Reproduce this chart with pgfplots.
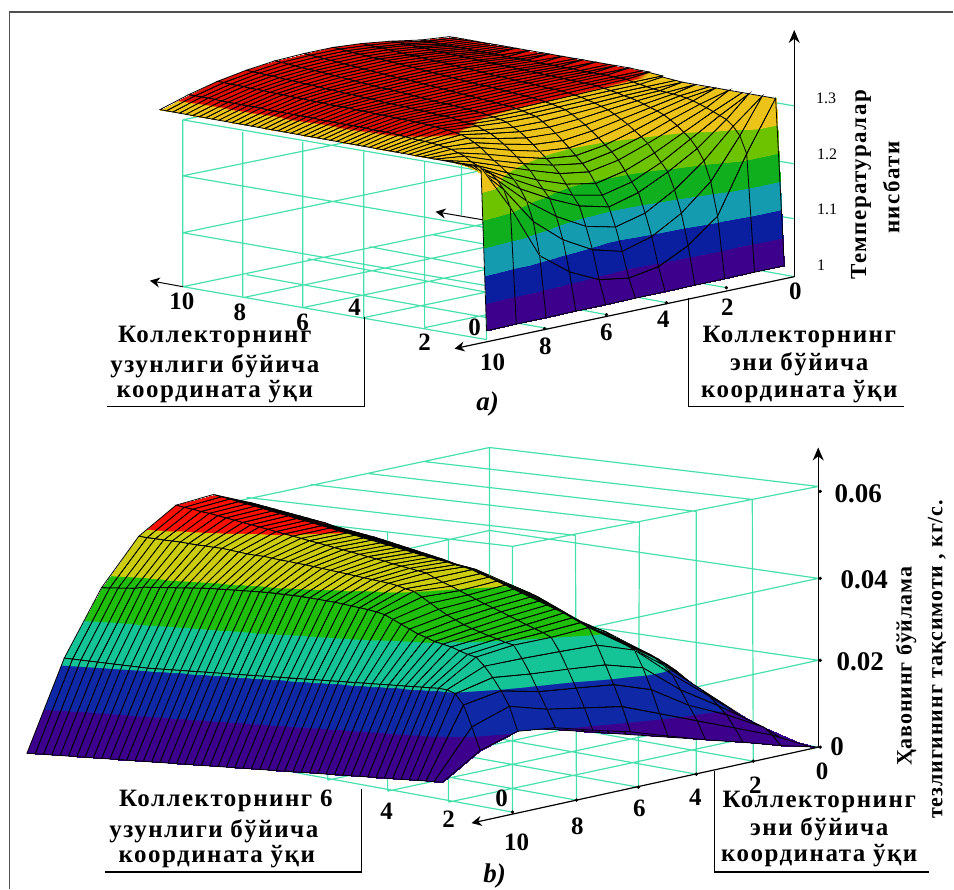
\documentclass[border=0pt]{standalone}
\usepackage{fontspec}
\setmainfont{Liberation Serif}
\newfontfamily\ls[LetterSpace=6]{Liberation Serif}
\newfontfamily\lsb[LetterSpace=4]{Liberation Serif}
\usepackage{pgfplots}
\pgfplotsset{compat=1.18}
\usetikzlibrary{arrows.meta}
\definecolor{cage}{RGB}{70,225,170}
\definecolor{axgray}{RGB}{60,60,60}
\pgfplotsset{
colormap={bandsa}{rgb255(0)=(60,0,140) rgb255(49)=(60,0,140) rgb255(50)=(10,30,160) rgb255(99)=(10,30,160) rgb255(100)=(20,155,175) rgb255(149)=(20,155,175) rgb255(150)=(15,175,30) rgb255(199)=(15,175,30) rgb255(200)=(110,195,0) rgb255(249)=(110,195,0) rgb255(250)=(235,195,25) rgb255(304)=(235,195,25) rgb255(305)=(225,15,0) rgb255(350)=(225,15,0)},
colormap={bandsb}{rgb255(0)=(60,0,140) rgb255(49)=(60,0,140) rgb255(50)=(15,40,165) rgb255(99)=(15,40,165) rgb255(100)=(20,195,150) rgb255(149)=(20,195,150) rgb255(150)=(30,190,10) rgb255(199)=(30,190,10) rgb255(200)=(205,205,15) rgb255(249)=(205,205,15) rgb255(250)=(250,15,0) rgb255(350)=(250,15,0)}
}
\tikzset{declare function={
bla(\s,\t,\a,\b,\c,\d)=(1-\s)*(1-\t)*\a+(1-\s)*\t*\b+\s*(1-\t)*\d+\s*\t*\c;
ua(\X,\Y,\H)=(1-\H/0.3)*bla(\X/10,\Y/10,785,487,165,455)+(\H/0.3)*bla(\X/10,\Y/10,783,488,160,450);
va(\X,\Y,\H)=(1-\H/0.3)*bla(\X/10,\Y/10,266,331,273,206)+(\H/0.3)*bla(\X/10,\Y/10,98,166,107,40);
ub(\X,\Y,\H)=bla(\X/10,\Y/10,819,443,27,400);
vb(\X,\Y,\H)=bla(\X/10,\Y/10,748,783,754,720)-4267*\H;
}}
\newcommand\tx[4][25]{\node[inner sep=0pt,font=\bfseries\fontsize{#1}{#1}\selectfont] at (axis cs:#2,#3,0) {#4};}
\newcommand\lb[3]{\node[inner sep=0pt,font=\ls\bfseries\fontsize{25}{25}\selectfont] at (axis cs:#1,#2,0) {#3};}
\newcommand\rt[3]{\node[inner sep=0pt,rotate=90,font=\ls\bfseries\fontsize{23}{23}\selectfont] at (axis cs:#1,#2,0) {#3};}
\newcommand\rtb[3]{\node[inner sep=0pt,rotate=90,font=\lsb\bfseries\fontsize{22}{22}\selectfont] at (axis cs:#1,#2,0) {#3};}
\begin{document}
\begin{tikzpicture}
\begin{axis}[scale only axis,width=954pt,height=890pt,xmin=0,xmax=954,ymin=0,ymax=890,zmin=0,zmax=1,y dir=reverse,view={0}{90},hide axis,clip=false,point meta min=0,point meta max=1]
\path (axis cs:0,0,0) rectangle (axis cs:954,890,0);
% frame
\addplot3[axgray!90,line width=1.8pt,no marks] coordinates {(9.5,890,0) (9.5,12,0) (954,12,0)};
% cage of a
\addplot3[cage,line width=1.2pt,no marks,empty line=jump] coordinates {
(183,120,0) (487,172,0)

(183,176,0) (487,228,0)

(183,233,0) (487,286,0)

(183,287,0) (487,340,0)

(183,120,0) (183,287,0)

(243,132,0) (243,298,0)

(303,142,0) (303,308,0)

(364,152,0) (364,318,0)

(425,162,0) (425,328,0)

(462,165,0) (462,215,0)

(487,172,0) (487,340,0)

(183,120,0) (495,55,0)

(183,176,0) (495,112,0)

(183,233,0) (495,168,0)

(183,287,0) (495,222,0)

(247,275,0) (549,329,0)

(308,259,0) (607,315,0)

(370,247,0) (667,303,0)

(433,235,0) (727,288,0)

(795,106,0) (495,55,0)

(795,164,0) (495,112,0)

(795,219,0) (495,168,0)

(795,277,0) (495,222,0)

(425,328,0) (737,263,0)

(364,318,0) (676,253,0)

(303,308,0) (615,243,0)

(243,298,0) (555,233,0)
};
\addplot3[black,line width=1pt,no marks,-{Stealth[length=10pt,width=10pt]}] coordinates {(183,287,0) (150,281,0)};
\addplot3[black,line width=1pt,no marks,-{Stealth[length=10pt,width=10pt]}] coordinates {(483,220,0) (436,212,0)};
% surface a : X = 10 ... 0 in rows, Y = 0 ... 10 in a row, z
\addplot3[surf,shader=faceted interp,faceted color=black,line width=0.8pt,colormap name=bandsa,z buffer=none,mesh/rows=51,mesh/cols=11,point meta={(\thisrowno{0}-1)/0.35}]
table[header=false,row sep=\\,x expr={ua(10-0.2*floor(\coordindex/11),mod(\coordindex,11),\thisrowno{0}-1)},y expr={va(10-0.2*floor(\coordindex/11),mod(\coordindex,11),\thisrowno{0}-1)},z expr=0]{
1.306\\1.312\\1.322\\1.330\\1.335\\1.336\\1.335\\1.330\\1.322\\1.310\\1.295\\
1.306\\1.312\\1.322\\1.329\\1.334\\1.335\\1.334\\1.329\\1.322\\1.310\\1.295\\
1.306\\1.312\\1.321\\1.328\\1.333\\1.334\\1.333\\1.329\\1.321\\1.310\\1.295\\
1.306\\1.311\\1.321\\1.328\\1.332\\1.333\\1.332\\1.328\\1.321\\1.310\\1.295\\
1.306\\1.311\\1.320\\1.327\\1.331\\1.332\\1.331\\1.328\\1.321\\1.310\\1.295\\
1.306\\1.311\\1.320\\1.326\\1.330\\1.331\\1.330\\1.327\\1.320\\1.309\\1.295\\
1.306\\1.311\\1.319\\1.325\\1.329\\1.330\\1.330\\1.326\\1.320\\1.309\\1.295\\
1.306\\1.311\\1.318\\1.324\\1.329\\1.329\\1.329\\1.326\\1.320\\1.309\\1.295\\
1.306\\1.310\\1.318\\1.324\\1.328\\1.328\\1.328\\1.325\\1.319\\1.309\\1.295\\
1.306\\1.310\\1.317\\1.323\\1.327\\1.327\\1.327\\1.324\\1.319\\1.309\\1.295\\
1.306\\1.310\\1.317\\1.322\\1.326\\1.326\\1.326\\1.324\\1.319\\1.309\\1.295\\
1.306\\1.310\\1.316\\1.321\\1.325\\1.325\\1.325\\1.323\\1.318\\1.309\\1.295\\
1.306\\1.310\\1.316\\1.321\\1.324\\1.324\\1.324\\1.322\\1.318\\1.308\\1.295\\
1.306\\1.309\\1.315\\1.320\\1.323\\1.323\\1.323\\1.322\\1.318\\1.308\\1.295\\
1.306\\1.309\\1.315\\1.319\\1.322\\1.322\\1.322\\1.321\\1.317\\1.308\\1.295\\
1.306\\1.309\\1.314\\1.318\\1.321\\1.322\\1.321\\1.320\\1.317\\1.308\\1.295\\
1.306\\1.309\\1.314\\1.318\\1.320\\1.321\\1.320\\1.320\\1.317\\1.308\\1.295\\
1.306\\1.309\\1.313\\1.317\\1.319\\1.320\\1.320\\1.319\\1.316\\1.308\\1.295\\
1.306\\1.308\\1.313\\1.316\\1.318\\1.319\\1.319\\1.318\\1.316\\1.308\\1.295\\
1.306\\1.308\\1.312\\1.315\\1.317\\1.318\\1.318\\1.318\\1.316\\1.308\\1.295\\
1.306\\1.308\\1.312\\1.314\\1.316\\1.317\\1.317\\1.317\\1.316\\1.307\\1.295\\
1.306\\1.308\\1.311\\1.314\\1.315\\1.316\\1.316\\1.316\\1.315\\1.307\\1.295\\
1.306\\1.308\\1.311\\1.313\\1.314\\1.315\\1.315\\1.316\\1.315\\1.307\\1.295\\
1.306\\1.308\\1.310\\1.312\\1.314\\1.314\\1.314\\1.315\\1.315\\1.307\\1.295\\
1.306\\1.307\\1.310\\1.311\\1.313\\1.313\\1.313\\1.315\\1.314\\1.307\\1.295\\
1.306\\1.307\\1.309\\1.311\\1.312\\1.312\\1.312\\1.314\\1.314\\1.307\\1.295\\
1.306\\1.307\\1.309\\1.310\\1.311\\1.311\\1.312\\1.313\\1.314\\1.307\\1.295\\
1.306\\1.307\\1.308\\1.309\\1.310\\1.310\\1.311\\1.313\\1.313\\1.307\\1.295\\
1.306\\1.307\\1.308\\1.308\\1.309\\1.309\\1.310\\1.312\\1.313\\1.306\\1.295\\
1.305\\1.306\\1.307\\1.308\\1.308\\1.308\\1.309\\1.311\\1.313\\1.306\\1.295\\
1.305\\1.306\\1.307\\1.307\\1.307\\1.307\\1.308\\1.311\\1.312\\1.306\\1.295\\
1.304\\1.306\\1.306\\1.306\\1.306\\1.306\\1.307\\1.310\\1.312\\1.306\\1.295\\
1.302\\1.303\\1.304\\1.304\\1.304\\1.304\\1.305\\1.308\\1.311\\1.305\\1.295\\
1.300\\1.301\\1.302\\1.302\\1.302\\1.302\\1.303\\1.306\\1.310\\1.304\\1.295\\
1.298\\1.299\\1.300\\1.299\\1.299\\1.299\\1.301\\1.305\\1.309\\1.303\\1.295\\
1.297\\1.297\\1.297\\1.296\\1.296\\1.296\\1.298\\1.303\\1.308\\1.302\\1.295\\
1.297\\1.296\\1.295\\1.292\\1.290\\1.289\\1.291\\1.298\\1.306\\1.302\\1.295\\
1.297\\1.295\\1.292\\1.288\\1.283\\1.281\\1.285\\1.294\\1.304\\1.301\\1.295\\
1.297\\1.294\\1.288\\1.282\\1.275\\1.272\\1.276\\1.287\\1.300\\1.300\\1.295\\
1.297\\1.293\\1.284\\1.275\\1.266\\1.261\\1.266\\1.279\\1.294\\1.298\\1.295\\
1.297\\1.291\\1.280\\1.268\\1.256\\1.250\\1.256\\1.270\\1.287\\1.296\\1.295\\
1.297\\1.288\\1.275\\1.259\\1.245\\1.238\\1.245\\1.260\\1.277\\1.292\\1.295\\
1.297\\1.284\\1.268\\1.250\\1.235\\1.226\\1.235\\1.250\\1.268\\1.288\\1.295\\
1.297\\1.280\\1.260\\1.240\\1.222\\1.213\\1.222\\1.240\\1.260\\1.280\\1.295\\
1.297\\1.275\\1.250\\1.225\\1.205\\1.194\\1.205\\1.225\\1.250\\1.275\\1.295\\
1.297\\1.270\\1.240\\1.210\\1.187\\1.175\\1.187\\1.210\\1.240\\1.270\\1.295\\
1.297\\1.265\\1.225\\1.195\\1.170\\1.156\\1.170\\1.195\\1.225\\1.265\\1.295\\
1.297\\1.255\\1.205\\1.165\\1.135\\1.122\\1.135\\1.165\\1.205\\1.255\\1.295\\
1.297\\1.240\\1.170\\1.125\\1.095\\1.080\\1.095\\1.125\\1.170\\1.240\\1.295\\
1.297\\1.210\\1.110\\1.069\\1.043\\1.034\\1.043\\1.069\\1.110\\1.210\\1.295\\
1.000\\1.000\\1.000\\1.000\\1.000\\1.000\\1.000\\1.000\\1.000\\1.000\\1.000\\
};
% axes of a
\addplot3[black,line width=1.2pt,no marks,-{Stealth[length=13pt,width=11pt]}] coordinates {(795,277,0) (795,30,0)};
\addplot3[black,line width=1.2pt,no marks,-{Stealth[length=10pt,width=10pt]}] coordinates {(795,277,0) (455,349,0)};
\addplot3[only marks,mark=*,mark size=1.5pt,black] coordinates {(727,288,0) (667,303,0) (607,315,0) (545,329,0)};
\addplot3[black,line width=1.2pt,no marks] coordinates {(365,317,0) (365,407,0) (107,407,0)};
\addplot3[black,line width=1.2pt,no marks] coordinates {(689,298,0) (689,407,0) (905,407,0)};
% cage of b
\addplot3[cage,line width=1.2pt,no marks,empty line=jump] coordinates {
(819,487,0) (490,448,0)

(819,579,0) (490,531,0)

(819,661,0) (490,613,0)

(819,748,0) (490,689,0)

(490,448,0) (490,689,0)

(819,487,0) (513,547,0)

(819,579,0) (513,645,0)

(819,661,0) (513,728,0)

(490,448,0) (184,513,0)

(490,531,0) (184,600,0)

(490,613,0) (184,680,0)

(490,689,0) (205,759,0)

(753,500,0) (424,462,0)

(697,512,0) (368,474,0)

(640,523,0) (311,485,0)

(576,536,0) (247,498,0)

(513,547,0) (184,509,0)

(513,645,0) (230,600,0)

(513,728,0) (230,680,0)

(753,500,0) (754,762,0)

(697,512,0) (697,775,0)

(640,523,0) (639,788,0)

(576,536,0) (577,801,0)

(513,547,0) (513,813,0)

(449,539,0) (449,803,0)

(388,532,0) (388,792,0)

(328,525,0) (328,781,0)

(513,813,0) (277,770,0)

(449,803,0) (757,737,0)

(388,792,0) (696,726,0)

(328,781,0) (636,715,0)

(577,801,0) (277,747,0)

(639,788,0) (339,734,0)

(697,775,0) (397,721,0)

(754,762,0) (454,708,0)
};
% surface b
\addplot3[surf,shader=faceted interp,faceted color=black,line width=0.8pt,colormap name=bandsb,z buffer=none,mesh/rows=51,mesh/cols=11,point meta={\thisrowno{0}/0.07}]
table[header=false,row sep=\\,x expr={ub(10-0.2*floor(\coordindex/11),mod(\coordindex,11),\thisrowno{0})},y expr={vb(10-0.2*floor(\coordindex/11),mod(\coordindex,11),\thisrowno{0})},z expr=0]{
0\\0.0175\\0.0330\\0.0455\\0.0540\\0.0567\\0.0550\\0.0485\\0.0372\\0.0215\\0\\
0\\0.0174\\0.0328\\0.0452\\0.0536\\0.0563\\0.0546\\0.0483\\0.0373\\0.0214\\0\\
0\\0.0173\\0.0326\\0.0449\\0.0532\\0.0559\\0.0543\\0.0482\\0.0374\\0.0213\\0\\
0\\0.0172\\0.0324\\0.0446\\0.0528\\0.0554\\0.0539\\0.0480\\0.0375\\0.0212\\0\\
0\\0.0171\\0.0322\\0.0443\\0.0524\\0.0550\\0.0536\\0.0479\\0.0376\\0.0211\\0\\
0\\0.0170\\0.0320\\0.0440\\0.0520\\0.0546\\0.0532\\0.0478\\0.0380\\0.0210\\0\\
0\\0.0168\\0.0318\\0.0437\\0.0516\\0.0542\\0.0528\\0.0476\\0.0381\\0.0209\\0\\
0\\0.0166\\0.0316\\0.0434\\0.0512\\0.0537\\0.0524\\0.0474\\0.0382\\0.0208\\0\\
0\\0.0164\\0.0314\\0.0431\\0.0508\\0.0533\\0.0520\\0.0473\\0.0383\\0.0207\\0\\
0\\0.0162\\0.0312\\0.0428\\0.0504\\0.0529\\0.0516\\0.0471\\0.0384\\0.0206\\0\\
0\\0.0160\\0.0310\\0.0425\\0.0498\\0.0524\\0.0512\\0.0470\\0.0385\\0.0205\\0\\
0\\0.0158\\0.0308\\0.0422\\0.0494\\0.0520\\0.0508\\0.0467\\0.0386\\0.0205\\0\\
0\\0.0156\\0.0306\\0.0419\\0.0490\\0.0516\\0.0504\\0.0464\\0.0387\\0.0205\\0\\
0\\0.0154\\0.0304\\0.0416\\0.0486\\0.0511\\0.0500\\0.0461\\0.0388\\0.0205\\0\\
0\\0.0152\\0.0302\\0.0413\\0.0482\\0.0507\\0.0496\\0.0459\\0.0388\\0.0205\\0\\
0\\0.0150\\0.0300\\0.0410\\0.0478\\0.0502\\0.0492\\0.0458\\0.0388\\0.0205\\0\\
0\\0.0149\\0.0298\\0.0407\\0.0473\\0.0498\\0.0488\\0.0455\\0.0388\\0.0205\\0\\
0\\0.0148\\0.0297\\0.0404\\0.0468\\0.0494\\0.0484\\0.0452\\0.0388\\0.0205\\0\\
0\\0.0147\\0.0296\\0.0401\\0.0463\\0.0489\\0.0480\\0.0450\\0.0388\\0.0205\\0\\
0\\0.0146\\0.0295\\0.0398\\0.0458\\0.0485\\0.0476\\0.0447\\0.0388\\0.0205\\0\\
0\\0.0145\\0.0294\\0.0395\\0.0453\\0.0480\\0.0472\\0.0445\\0.0388\\0.0205\\0\\
0\\0.0144\\0.0293\\0.0392\\0.0448\\0.0476\\0.0468\\0.0442\\0.0387\\0.0205\\0\\
0\\0.0143\\0.0292\\0.0389\\0.0443\\0.0472\\0.0464\\0.0439\\0.0386\\0.0205\\0\\
0\\0.0142\\0.0291\\0.0386\\0.0438\\0.0467\\0.0460\\0.0436\\0.0385\\0.0205\\0\\
0\\0.0141\\0.0290\\0.0383\\0.0432\\0.0463\\0.0456\\0.0433\\0.0384\\0.0205\\0\\
0\\0.0140\\0.0288\\0.0380\\0.0426\\0.0458\\0.0452\\0.0430\\0.0382\\0.0205\\0\\
0\\0.0138\\0.0285\\0.0377\\0.0423\\0.0454\\0.0447\\0.0427\\0.0380\\0.0205\\0\\
0\\0.0136\\0.0282\\0.0372\\0.0419\\0.0450\\0.0443\\0.0424\\0.0378\\0.0205\\0\\
0\\0.0134\\0.0279\\0.0365\\0.0411\\0.0446\\0.0439\\0.0421\\0.0376\\0.0205\\0\\
0\\0.0132\\0.0276\\0.0358\\0.0403\\0.0441\\0.0435\\0.0418\\0.0373\\0.0205\\0\\
0\\0.0130\\0.0275\\0.0350\\0.0395\\0.0437\\0.0431\\0.0415\\0.0370\\0.0205\\0\\
0\\0.0128\\0.0270\\0.0340\\0.0385\\0.0432\\0.0421\\0.0411\\0.0367\\0.0205\\0\\
0\\0.0126\\0.0265\\0.0330\\0.0375\\0.0424\\0.0412\\0.0405\\0.0364\\0.0205\\0\\
0\\0.0124\\0.0258\\0.0320\\0.0365\\0.0417\\0.0404\\0.0400\\0.0360\\0.0205\\0\\
0\\0.0122\\0.0252\\0.0310\\0.0355\\0.0409\\0.0395\\0.0388\\0.0355\\0.0205\\0\\
0\\0.0120\\0.0245\\0.0300\\0.0345\\0.0401\\0.0386\\0.0375\\0.0345\\0.0205\\0\\
0\\0.0118\\0.0238\\0.0293\\0.0336\\0.0393\\0.0377\\0.0362\\0.0335\\0.0205\\0\\
0\\0.0115\\0.0232\\0.0285\\0.0328\\0.0385\\0.0368\\0.0350\\0.0325\\0.0205\\0\\
0\\0.0112\\0.0226\\0.0280\\0.0320\\0.0377\\0.0360\\0.0340\\0.0315\\0.0205\\0\\
0\\0.0109\\0.0218\\0.0270\\0.0310\\0.0369\\0.0352\\0.0330\\0.0308\\0.0205\\0\\
0\\0.0105\\0.0208\\0.0260\\0.0303\\0.0361\\0.0343\\0.0322\\0.0300\\0.0205\\0\\
0\\0.0101\\0.0197\\0.0250\\0.0297\\0.0353\\0.0335\\0.0315\\0.0295\\0.0205\\0\\
0\\0.0097\\0.0185\\0.0240\\0.0290\\0.0345\\0.0326\\0.0308\\0.0290\\0.0205\\0\\
0\\0.0093\\0.0170\\0.0235\\0.0283\\0.0335\\0.0318\\0.0302\\0.0282\\0.0205\\0\\
0\\0.0088\\0.0155\\0.0225\\0.0275\\0.0325\\0.0310\\0.0295\\0.0275\\0.0205\\0\\
0\\0.0080\\0.0145\\0.0210\\0.0265\\0.0315\\0.0300\\0.0290\\0.0270\\0.0205\\0\\
0\\0.0068\\0.0130\\0.0190\\0.0255\\0.0275\\0.0268\\0.0260\\0.0250\\0.0203\\0\\
0\\0.0060\\0.0110\\0.0155\\0.0215\\0.0230\\0.0228\\0.0225\\0.0225\\0.0195\\0\\
0\\0.0052\\0.0090\\0.0120\\0.0165\\0.0185\\0.0185\\0.0185\\0.0195\\0.0170\\0\\
0\\0.0035\\0.0060\\0.0085\\0.0110\\0.0135\\0.0140\\0.0145\\0.0160\\0.0120\\0\\
0\\0.0012\\0.0028\\0.0042\\0.0059\\0.0077\\0.0089\\0.0103\\0.0103\\0.0066\\0\\
};
% axes of b
\addplot3[black,line width=1.2pt,no marks,-{Stealth[length=13pt,width=11pt]}] coordinates {(819,748,0) (819,448,0)};
\addplot3[black,line width=1.2pt,no marks,-{Stealth[length=10pt,width=10pt]}] coordinates {(819,748,0) (472,824,0)};
\addplot3[only marks,mark=*,mark size=1.5pt,black] coordinates {(754,762,0) (697,775,0) (639,788,0) (577,801,0) (513,813,0) (821,492,0) (821,579,0) (821,661,0) (821,748,0)};
\addplot3[black,line width=1.2pt,no marks] coordinates {(362,790,0) (362,873,0) (105,873,0)};
\addplot3[black,line width=1.2pt,no marks] coordinates {(715,772,0) (715,873,0) (930,873,0)};
% labels a
\tx{182}{302}{10}\tx{240}{313}{8}\tx{303}{323}{6}\tx{355}{308}{4}\tx{425}{343}{2}\tx{475}{328}{0}
\tx{796}{292}{0}\tx{728}{308}{2}\tx{664}{320}{4}\tx{607}{333}{6}\tx{546}{347}{8}\tx{493}{363}{10}
\node[inner sep=0pt,font=\fontsize{16}{16}\selectfont] at (axis cs:827,98,0) {1.3};
\node[inner sep=0pt,font=\fontsize{16}{16}\selectfont] at (axis cs:828,154,0) {1.2};
\node[inner sep=0pt,font=\fontsize{16}{16}\selectfont] at (axis cs:828,210,0) {1.1};
\node[inner sep=0pt,font=\fontsize{16}{16}\selectfont] at (axis cs:822,266,0) {1};
\lb{215}{337}{Коллекторнинг}\lb{215}{367}{узунлиги бўйича}\lb{215}{392}{координата ўқи}
\lb{800}{337}{Коллекторнинг}\lb{800}{365}{эни бўйича}\lb{800}{392}{координата ўқи}
\node[inner sep=0pt,font=\bfseries\itshape\fontsize{27}{27}\selectfont] at (axis cs:488,404,0) {a)};
\rt{862}{185}{Температуралар}\rt{892}{188}{нисбати}
% labels b
\tx{502}{799}{0}\tx{449}{820}{2}\tx{387}{812}{4}
\tx{823}{772}{0}\tx{756}{786}{2}\tx{696}{798}{4}\tx{640}{809}{6}\tx{578}{827}{8}\tx{517}{843}{10}
\tx[27]{838}{747}{0}\tx[27]{859}{494}{0.06}\tx[27]{865}{580}{0.04}\tx[27]{861}{662}{0.02}
\lb{226}{802}{Коллекторнинг 6}\lb{214}{832}{узунлиги бўйича}\lb{217}{858}{координата ўқи}
\lb{820}{803}{Коллекторнинг}\lb{820}{830}{эни бўйича}\lb{820}{857}{координата ўқи}
\node[inner sep=0pt,font=\bfseries\itshape\fontsize{27}{27}\selectfont] at (axis cs:495,877,0) {b)};
\rtb{907}{667}{Ҳавонинг бўйлама}\rtb{938}{660}{тезлигининг тақсимоти , кг/с.}
\end{axis}
\end{tikzpicture}
\end{document}
